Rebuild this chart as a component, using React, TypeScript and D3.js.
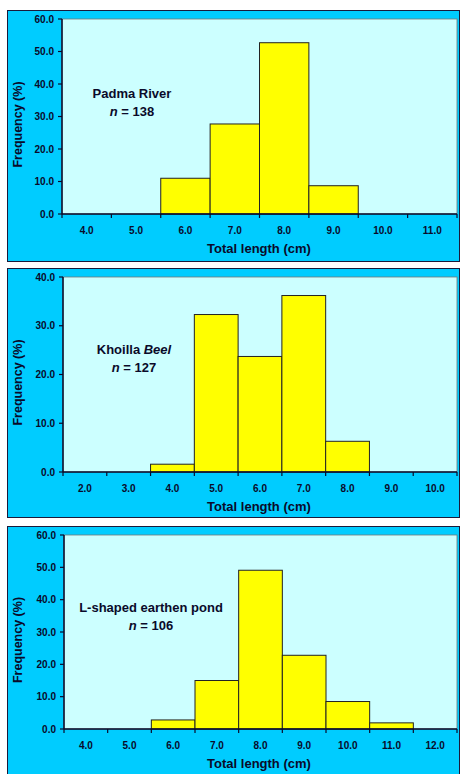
import React from 'react';
import * as d3 from 'd3';

// panel 1: Padma River
const padmaCats = ["4.0", "5.0", "6.0", "7.0", "8.0", "9.0", "10.0", "11.0"];
const padmaFreq = [0, 0, 11.0, 27.7, 52.7, 8.7, 0, 0];
const padmaTicks = [0, 10, 20, 30, 40, 50, 60];

// panel 2: Khoilla Beel
const beelCats = ["2.0", "3.0", "4.0", "5.0", "6.0", "7.0", "8.0", "9.0", "10.0"];
const beelFreq = [0, 0, 1.6, 32.3, 23.7, 36.2, 6.3, 0, 0];
const beelTicks = [0, 10, 20, 30, 40];

// panel 3: L-shaped earthen pond
const pondCats = ["4.0", "5.0", "6.0", "7.0", "8.0", "9.0", "10.0", "11.0", "12.0"];
const pondFreq = [0, 0, 2.8, 15.0, 49.1, 22.8, 8.5, 1.9, 0];
const pondTicks = [0, 10, 20, 30, 40, 50, 60];

const FONT = '"Liberation Sans", Arial, sans-serif';
const INK = '#0a0a2a';

type PanelProps = {
  boxTop: number;
  boxBottom: number;
  left: number;
  top: number;
  bottom: number;
  cats: string[];
  freq: number[];
  ticks: number[];
  label: React.ReactNode;
  labelX: number;
  labelY: number;
};

const Panel = ({ boxTop, boxBottom, left, top, bottom, cats, freq, ticks, label, labelX, labelY }: PanelProps) => {
  const right = 457;
  const x = d3.scaleBand().domain(cats).range([left, right]).padding(0);
  const y = d3.scaleLinear().domain([0, d3.max(ticks) as number]).range([bottom, top]);
  const edges = cats.map(c => x(c) as number).concat([right]);

  return (
    <g>
      <rect x={7.5} y={boxTop + 0.5} width={452} height={boxBottom - boxTop} fill="#00ccff" stroke="#1a1a3a" strokeWidth={1} />
      <rect x={left} y={top} width={right - left} height={bottom - top} fill="#ccffff" stroke="#777" strokeWidth={0.8} />
      {cats.map((c, i) => freq[i] > 0 && (
        <rect key={c} x={x(c)} y={y(freq[i])} width={x.bandwidth()} height={bottom - y(freq[i])}
          fill="#ffff00" stroke="#222" strokeWidth={1} />
      ))}
      {/* y axis */}
      <line x1={left} x2={left} y1={top} y2={bottom} stroke={INK} strokeWidth={1.5} />
      {ticks.map(t => (
        <g key={t}>
          <line x1={left - 4} x2={left} y1={y(t)} y2={y(t)} stroke={INK} strokeWidth={1.2} />
          <text x={left - 8} y={y(t)} dy="0.35em" textAnchor="end" fontSize={10} fontWeight="bold" fill={INK} fontFamily={FONT}>
            {d3.format(".1f")(t)}
          </text>
        </g>
      ))}
      {/* x axis */}
      <line x1={left} x2={right} y1={bottom} y2={bottom} stroke={INK} strokeWidth={1.5} />
      {edges.map((e, i) => (
        <line key={i} x1={e} x2={e} y1={bottom} y2={bottom + 4} stroke={INK} strokeWidth={1.2} />
      ))}
      {cats.map(c => (
        <text key={c} x={(x(c) as number) + x.bandwidth() / 2} y={bottom + 19.5} textAnchor="middle" fontSize={10}
          fontWeight="bold" fill={INK} fontFamily={FONT}>{c}</text>
      ))}
      <text x={259} y={bottom + 38.5} textAnchor="middle" fontSize={13} fontWeight="bold" fill={INK} fontFamily={FONT}>
        Total length (cm)
      </text>
      <text transform={`translate(18,${(top + bottom) / 2 + 8}) rotate(-90)`} dy="0.35em" textAnchor="middle" fontSize={12.5}
        fontWeight="bold" fill={INK} fontFamily={FONT}>Frequency (%)</text>
      <text x={labelX} y={labelY} textAnchor="middle" fontSize={13} fontWeight="bold" fill={INK} fontFamily={FONT}>
        {label}
      </text>
    </g>
  );
};

const Sample = ({ x, y, n }: { x: number; y: number; n: number }) => (
  <text x={x} y={y} textAnchor="middle" fontSize={13} fontWeight="bold" fill={INK} fontFamily={FONT}>
    <tspan fontStyle="italic">n</tspan> = {n}
  </text>
);

export default function App() {
  return (
    <svg width={460} height={774} style={{ position: 'absolute', left: 0, top: 0, background: '#fff' }}>
      <Panel boxTop={10} boxBottom={261} left={62} top={19} bottom={214} cats={padmaCats} freq={padmaFreq}
        ticks={padmaTicks} label="Padma River" labelX={132} labelY={98} />
      <Sample x={132} y={116} n={138} />
      <Panel boxTop={268} boxBottom={517} left={63} top={277} bottom={472} cats={beelCats} freq={beelFreq}
        ticks={beelTicks} label={<>Khoilla <tspan fontStyle="italic">Beel</tspan></>} labelX={134} labelY={354} />
      <Sample x={134} y={372} n={127} />
      <Panel boxTop={526} boxBottom={790} left={64} top={535} bottom={729} cats={pondCats} freq={pondFreq}
        ticks={pondTicks} label="L-shaped earthen pond" labelX={151} labelY={612} />
      <Sample x={151} y={630} n={106} />
    </svg>
  );
}
